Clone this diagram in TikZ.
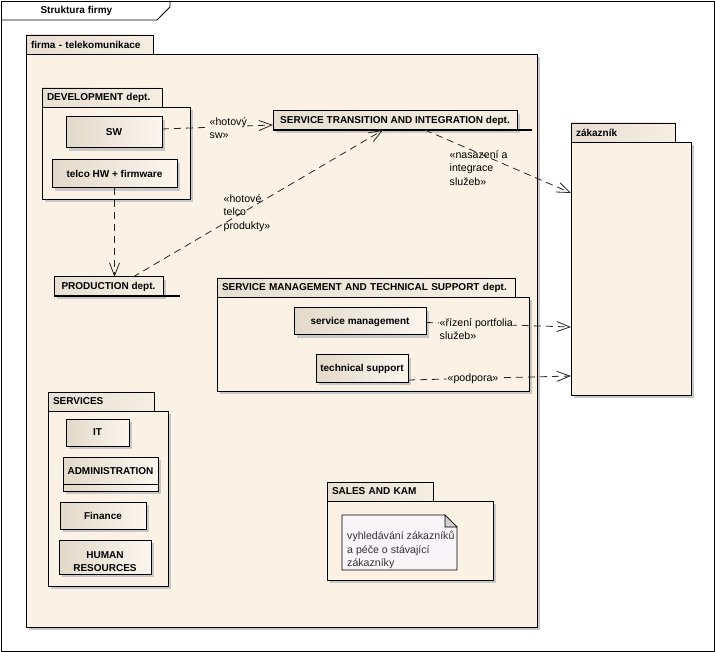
\documentclass[tikz,border=0pt]{standalone}
\usepackage{fontspec}
\setmainfont{Liberation Sans}
\usetikzlibrary{arrows.meta,shadows}
\definecolor{bg}{HTML}{FBF1E4}
\definecolor{tabL}{HTML}{E8DED2}
\definecolor{tabR}{HTML}{F7EEE3}
\definecolor{elL}{HTML}{E3D9CA}
\definecolor{elR}{HTML}{FCF6EE}
\definecolor{shd}{HTML}{C8C8C8}
\definecolor{notefill}{HTML}{F8F4F7}
\definecolor{foldgray}{HTML}{CFCFCF}
\tikzset{
  box/.style={anchor=north west, inner sep=0pt, outer sep=0pt},
  shd/.style={drop shadow={shadow xshift=3pt,shadow yshift=-3pt,opacity=1,fill=shd}},
  pkgbody/.style={box, draw=black, line width=0.9pt, fill=bg, shd},
  pkgtab/.style={box, draw=black, line width=0.9pt, left color=tabL, right color=tabR,
    inner xsep=5pt, align=left, font=\bfseries\fontsize{10}{12}\selectfont},
  elem/.style={box, draw=black, line width=1pt, left color=elL, right color=elR,
    align=center, font=\bfseries\fontsize{10}{13}\selectfont, shd},
  collapsed/.style={box, draw=black, line width=1pt, left color=tabL, right color=tabR,
    inner xsep=6pt, align=left, font=\bfseries\fontsize{10}{12}\selectfont, shd},
  conn/.style={draw=black!85, line width=0.8pt, dash pattern=on 7pt off 5pt,
    -{Straight Barb[length=13pt,width=10pt]}},
  clabel/.style={anchor=north west, inner sep=0.5pt, align=left,
    font=\fontsize{10.6}{13.3}\selectfont},
  filled/.style={fill=bg},
}
\newcommand\umlpkg[7]{%
  \node[pkgbody, minimum width=#5pt, minimum height=#6pt] (#1) at (#2,#3+19) {};
  \node[pkgtab, minimum width=#4pt, minimum height=19pt, text width=\dimexpr#4pt-10pt\relax] (#1tab) at (#2,#3) {#7};
}
\begin{document}
\begin{tikzpicture}[x=1pt,y=-1pt]
\useasboundingbox[fill=white] (0,0) rectangle (715,652);
% frame
\draw[line width=0.8pt] (1,1) rectangle (714,651);
\draw[line width=0.8pt] (1,20) -- (157,20) -- (170,7) -- (170,1);
\node[anchor=west, font=\bfseries\fontsize{10}{12}\selectfont] (title) at (37,10.5) {Struktura firmy};

% main package
\umlpkg{firma}{26}{35}{127}{511}{573}{firma - telekomunikace}

% development
\umlpkg{dev}{42}{88}{120}{148}{92}{DEVELOPMENT dept.}
\node[elem, minimum width=96pt, minimum height=31pt] (sw) at (66,117) {SW};
\node[elem, minimum width=125pt, minimum height=28pt] (telco) at (52,160) {telco HW + firmware};

% collapsed packages
\node[collapsed, minimum width=244pt, minimum height=19pt] (sti) at (273,111) {SERVICE TRANSITION AND INTEGRATION dept.};
\draw[line width=1.6pt] (sti.south west) -- ++(259,0);
\node[collapsed, minimum width=109pt, minimum height=19pt] (prod) at (54,277) {PRODUCTION dept.};
\draw[line width=1.6pt] (prod.south west) -- ++(126,0);

% service management
\umlpkg{smd}{217}{278}{298}{312}{94}{SERVICE MANAGEMENT AND TECHNICAL SUPPORT dept.}
\node[elem, minimum width=132pt, minimum height=27pt, text depth=1pt] (sm) at (294,308) {service management};
\node[elem, minimum width=92pt, minimum height=27pt] (ts) at (316,355) {technical support};

% services
\umlpkg{srv}{48}{392}{106}{120}{175}{SERVICES}
\node[elem, minimum width=63pt, minimum height=27pt] (it) at (66,419) {IT};
\node[elem, minimum width=95pt, minimum height=34pt, text depth=6pt] (admin) at (63,457) {ADMINISTRATION};
\draw[line width=1pt] ([yshift=7pt]admin.south west) -- ([yshift=7pt]admin.south east);
\node[elem, minimum width=86pt, minimum height=27pt] (fin) at (60,502) {Finance};
\node[elem, minimum width=92pt, minimum height=34pt] (hr) at (59,540) {\rule{0pt}{17pt}HUMAN\\RESOURCES};

% sales
\umlpkg{sales}{327}{482}{106}{166}{79}{SALES AND KAM}
\path[draw=black, line width=0.8pt, fill=notefill] (342,515) -- (445,515) -- (457,527) -- (457,570) -- (342,570) -- cycle;
\path[draw=black, line width=0.6pt, fill=foldgray] (445,515) -- (457,527) -- (445,527) -- cycle;
\node[anchor=north west, inner sep=0pt, align=left, text=black!80,
  font=\fontsize{10.6}{13.3}\selectfont] (notetext) at (347,531) {vyhledávání zákazníků\\a péče o stávající\\zákazníky};

% customer
\umlpkg{zak}{571}{123}{104}{120}{253}{zákazník}

% connectors
\draw[conn] ([yshift=3.5pt]sw.east) -- ([yshift=-4.5pt]sti.west);
\draw[conn] (telco.south) -- (telco.south |- prod.north);
\draw[conn] ([xshift=24.5pt]prod.north) -- ([xshift=-12pt]sti.south);
\draw[conn] ([xshift=30pt]sti.south) -- ([yshift=-51pt]zak.north west);
\draw[conn] ([yshift=-1pt]sm.east) -- ([yshift=-185pt]zak.north west);
\draw[conn] ([yshift=-11.5pt]ts.east) -- ([yshift=-234pt]zak.north west);

% labels
\node[clabel, filled] (l1) at (209,117) {«hotový\\sw»};
\node[clabel] (l2) at (223,194) {«hotové\\telco\\produkty»};
\node[clabel] (l3) at (449,150) {«nasazení a\\integrace\\služeb»};
\node[clabel, filled] (l4) at (439,318) {«řízení portfolia\\služeb»};
\node[clabel, filled, anchor=west] (l5) at (447,379) {«podpora»};
\end{tikzpicture}
\end{document}
